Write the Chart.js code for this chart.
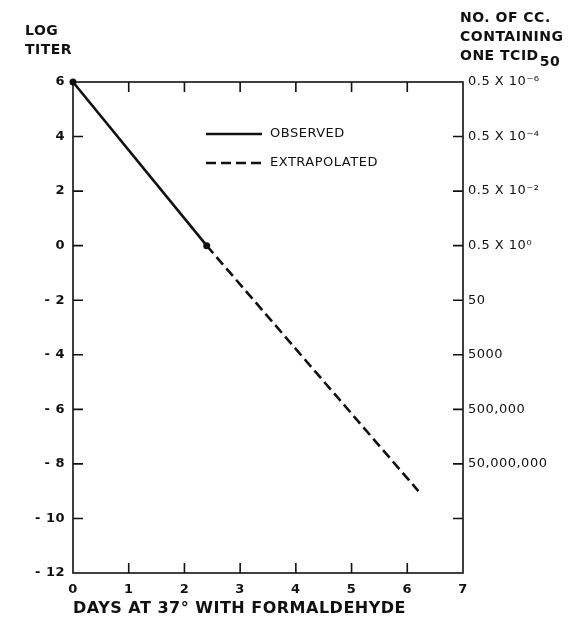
<!DOCTYPE html>
<html>
<head>
<meta charset="utf-8">
<script src="https://cdn.jsdelivr.net/npm/chart.js@4.4.1/dist/chart.umd.min.js"></script>
<style>
  html, body { margin: 0; padding: 0; background: #fff; }
  canvas { display: block; }
</style>
</head>
<body>
<canvas id="chart" width="581" height="622"></canvas>
<script>
// values
const observedDays = [0, 2.4];
const observedTiter = [6, 0];
const extrapolatedDays = [2.4, 6.2];
const extrapolatedTiter = [0, -9.0];

const rightTickValues = [6, 4, 2, 0, -2, -4, -6, -8];
const rightTickLabels = [
  '0.5 X 10\u207B\u2076', '0.5 X 10\u207B\u2074', '0.5 X 10\u207B\u00B2', '0.5 X 10\u2070',
  '50', '5000', '500,000', '50,000,000'
];

const FONT = '"DejaVu Sans", sans-serif';
const INK = '#111';

// lettering in the original is loosely spaced
const spacing = {
  id: 'spacing',
  beforeDraw(chart) { chart.ctx.letterSpacing = '0.5px'; }
};

// frame, inward ticks, legend and corner headings
const decorations = {
  id: 'decorations',
  afterDraw(chart) {
    const { ctx, chartArea: a, scales } = chart;
    ctx.save();
    ctx.strokeStyle = INK;
    ctx.lineWidth = 1.6;
    ctx.strokeRect(a.left, a.top, a.right - a.left, a.bottom - a.top);

    // inward ticks
    ctx.beginPath();
    scales.x.ticks.forEach(t => {
      if (t.value <= 0 || t.value >= 7) return;
      const px = scales.x.getPixelForValue(t.value);
      ctx.moveTo(px, a.top); ctx.lineTo(px, a.top + 10);
      ctx.moveTo(px, a.bottom); ctx.lineTo(px, a.bottom - 10);
    });
    scales.y.ticks.forEach(t => {
      if (t.value >= 6 || t.value <= -12) return;
      const py = scales.y.getPixelForValue(t.value);
      ctx.moveTo(a.left, py); ctx.lineTo(a.left + 10, py);
      ctx.moveTo(a.right, py); ctx.lineTo(a.right - 10, py);
    });
    ctx.stroke();

    // legend
    ctx.lineWidth = 2.5;
    ctx.beginPath();
    ctx.moveTo(206, 134); ctx.lineTo(262, 134);
    ctx.stroke();
    ctx.setLineDash([10, 5]);
    ctx.beginPath();
    ctx.moveTo(206, 163); ctx.lineTo(262, 163);
    ctx.stroke();
    ctx.setLineDash([]);

    ctx.fillStyle = INK;
    ctx.textBaseline = 'middle';
    ctx.font = '13px ' + FONT;
    ctx.fillText('OBSERVED', 270, 134);
    ctx.fillText('EXTRAPOLATED', 270, 163);

    // headings
    ctx.font = 'bold 14px ' + FONT;
    ctx.fillText('LOG', 25, 31);
    ctx.fillText('TITER', 25, 50);
    ctx.fillText('NO. OF CC.', 460, 18);
    ctx.fillText('CONTAINING', 460, 37);
    ctx.fillText('ONE TCID', 460, 56);
    const w = ctx.measureText('ONE TCID').width;
    ctx.fillText('50', 460 + w + 1, 62);
    ctx.restore();
  }
};

new Chart(document.getElementById('chart'), {
  type: 'line',
  data: {
    datasets: [
      {
        label: 'OBSERVED',
        data: observedDays.map((d, i) => ({ x: d, y: observedTiter[i] })),
        borderColor: INK,
        backgroundColor: INK,
        borderWidth: 2.6,
        pointRadius: 3.5,
        pointBackgroundColor: INK,
        pointBorderWidth: 0,
        clip: false
      },
      {
        label: 'EXTRAPOLATED',
        data: extrapolatedDays.map((d, i) => ({ x: d, y: extrapolatedTiter[i] })),
        borderColor: INK,
        borderWidth: 2.6,
        borderDash: [10, 5],
        pointRadius: 0,
        clip: false
      }
    ]
  },
  options: {
    responsive: false,
    animation: false,
    layout: { padding: { top: 82, right: 0, bottom: 0, left: 0 } },
    plugins: { legend: { display: false }, tooltip: { enabled: false } },
    scales: {
      x: {
        type: 'linear',
        min: 0,
        max: 7,
        grid: { display: false, drawTicks: false },
        border: { display: false },
        ticks: {
          stepSize: 1,
          padding: 9,
          color: INK,
          font: { family: FONT, size: 13, weight: 'bold' }
        },
        title: {
          display: true,
          text: 'DAYS AT 37\u00B0 WITH FORMALDEHYDE',
          align: 'start',
          color: INK,
          font: { family: FONT, size: 16, weight: 'bold' },
          padding: { top: 5 }
        },
        afterFit(scale) { scale.height = 49; }
      },
      y: {
        min: -12,
        max: 6,
        grid: { display: false, drawTicks: false },
        border: { display: false },
        ticks: {
          stepSize: 2,
          padding: 8,
          color: INK,
          font: { family: FONT, size: 13, weight: 'bold' },
          callback: v => v < 0 ? '- ' + Math.abs(v) : String(v)
        },
        afterFit(scale) { scale.width = 73; }
      },
      y2: {
        position: 'right',
        min: -12,
        max: 6,
        grid: { display: false, drawTicks: false },
        border: { display: false },
        ticks: {
          stepSize: 2,
          padding: 5,
          color: INK,
          font: { family: FONT, size: 13 },
          callback: v => {
            const i = rightTickValues.indexOf(v);
            return i >= 0 ? rightTickLabels[i] : '';
          }
        },
        afterFit(scale) { scale.width = 118; }
      }
    }
  },
  plugins: [spacing, decorations]
});
</script>
</body>
</html>
